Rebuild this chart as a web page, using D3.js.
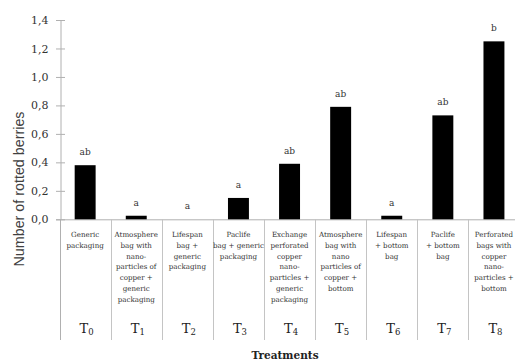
<!DOCTYPE html>
<html>
<head>
<meta charset="utf-8">
<script src="https://cdn.jsdelivr.net/npm/d3@7"></script>
<style>
  html, body { margin: 0; padding: 0; background: #fff; }
  svg { display: block; }
</style>
</head>
<body>
<div id="chart"></div>
<script>
// Treatments, their codes and the mean number of rotted berries
const codes = ["0", "1", "2", "3", "4", "5", "6", "7", "8"];
const values = [0.38, 0.025, 0, 0.15, 0.39, 0.79, 0.025, 0.73, 1.25];
const groups = ["ab", "a", "a", "a", "ab", "ab", "a", "ab", "b"];
const descriptions = [
  ["Generic", "packaging"],
  ["Atmosphere", "bag with", "nano-", "particles of", "copper +", "generic", "packaging"],
  ["Lifespan", "bag +", "generic", "packaging"],
  ["Paclife", "bag + generic", "packaging"],
  ["Exchange", "perforated", "copper", "nano-", "particles +", "generic", "packaging"],
  ["Atmosphere", "bag with", "nano", "particles of", "copper +", "bottom"],
  ["Lifespan", "+ bottom", "bag"],
  ["Paclife", "+ bottom", "bag"],
  ["Perforated", "bags with", "copper", "nano-", "particles +", "bottom"]
];
const yTicks = [0, 0.2, 0.4, 0.6, 0.8, 1.0, 1.2, 1.4];

const W = 515, H = 363;
const serif = "'DejaVu Serif', serif";
const tableBottom = 340;

const svg = d3.select("#chart").append("svg")
  .attr("width", W).attr("height", H);

// one column per treatment; the last column runs past the right edge
const x = d3.scaleBand().domain(codes).range([59.6, 519.5])
  .paddingInner(0.59).paddingOuter(0.295);
const col = d3.scaleBand().domain(codes).range([59.6, 519.5]).padding(0);
const y = d3.scaleLinear().domain([0, 1.4]).range([219.3, 20]);

// y axis
const yAxis = svg.append("g").attr("transform", "translate(60.5,0)")
  .call(d3.axisLeft(y).tickValues(yTicks).tickSize(0)
    .tickFormat(d => d3.format(".1f")(d).replace(".", ",")));
yAxis.select(".domain").attr("stroke", "#b0b0b0");
yAxis.selectAll(".tick line").remove();
yAxis.selectAll(".tick").append("line")
  .attr("x1", -4.5).attr("x2", 4.5).attr("stroke", "#b0b0b0");
yAxis.selectAll(".tick text")
  .attr("x", -12).attr("fill", "#333")
  .style("font-family", serif).style("font-size", "11px");

// the axis line continues down as the table's left border
svg.append("line")
  .attr("x1", 60.5).attr("x2", 60.5)
  .attr("y1", y(0)).attr("y2", tableBottom)
  .attr("stroke", "#b0b0b0");

// baseline
svg.append("line")
  .attr("x1", 56).attr("x2", W)
  .attr("y1", y(0) + 0.5).attr("y2", y(0) + 0.5)
  .attr("stroke", "#b0b0b0");

// column separators below the baseline
svg.selectAll("line.sep").data(codes.slice(1)).enter().append("line")
  .attr("class", "sep")
  .attr("x1", d => Math.round(col(d)) + 0.5).attr("x2", d => Math.round(col(d)) + 0.5)
  .attr("y1", y(0)).attr("y2", tableBottom)
  .attr("stroke", "#c4c4c4");

// bars
svg.selectAll("rect.bar").data(codes).enter().append("rect")
  .attr("class", "bar")
  .attr("x", d => x(d)).attr("width", x.bandwidth())
  .attr("y", (d, i) => y(values[i]))
  .attr("height", (d, i) => y(0) - y(values[i]))
  .attr("fill", "#000");

// significance letters
svg.selectAll("text.grp").data(codes).enter().append("text")
  .attr("class", "grp")
  .attr("x", d => x(d) + x.bandwidth() / 2)
  .attr("y", (d, i) => y(values[i]) - 10)
  .attr("text-anchor", "middle").attr("fill", "#333")
  .style("font-family", serif).style("font-size", "9px")
  .text((d, i) => groups[i]);

// treatment descriptions
const desc = svg.selectAll("text.desc").data(codes).enter().append("text")
  .attr("class", "desc")
  .attr("text-anchor", "middle").attr("fill", "#333")
  .style("font-family", serif).style("font-size", "7.1px");
desc.each(function(d, i) {
  const cx = col(d) + col.bandwidth() / 2;
  d3.select(this).selectAll("tspan").data(descriptions[i]).enter().append("tspan")
    .attr("x", cx).attr("y", (t, j) => 237 + j * 10.8)
    .text(t => t);
});

// treatment codes T0..T8
const tl = svg.selectAll("text.code").data(codes).enter().append("text")
  .attr("class", "code")
  .attr("x", d => col(d) + col.bandwidth() / 2 + 1.5)
  .attr("y", 333)
  .attr("text-anchor", "middle").attr("fill", "#222")
  .style("font-family", serif).style("font-size", "13px");
tl.append("tspan").text("T");
tl.append("tspan").attr("dy", 2).style("font-size", "8.5px").text(d => d);

// axis titles
svg.append("text")
  .attr("transform", "translate(23.5,189) rotate(-90)")
  .attr("text-anchor", "middle").attr("fill", "#404040")
  .style("font-family", "'Liberation Sans', Arial, sans-serif").style("font-size", "14.3px")
  .text("Number of rotted berries");

svg.append("text")
  .attr("x", 285).attr("y", 359)
  .attr("text-anchor", "middle").attr("fill", "#222")
  .style("font-family", serif).style("font-size", "10.5px").style("font-weight", "bold")
  .text("Treatments");
</script>
</body>
</html>
